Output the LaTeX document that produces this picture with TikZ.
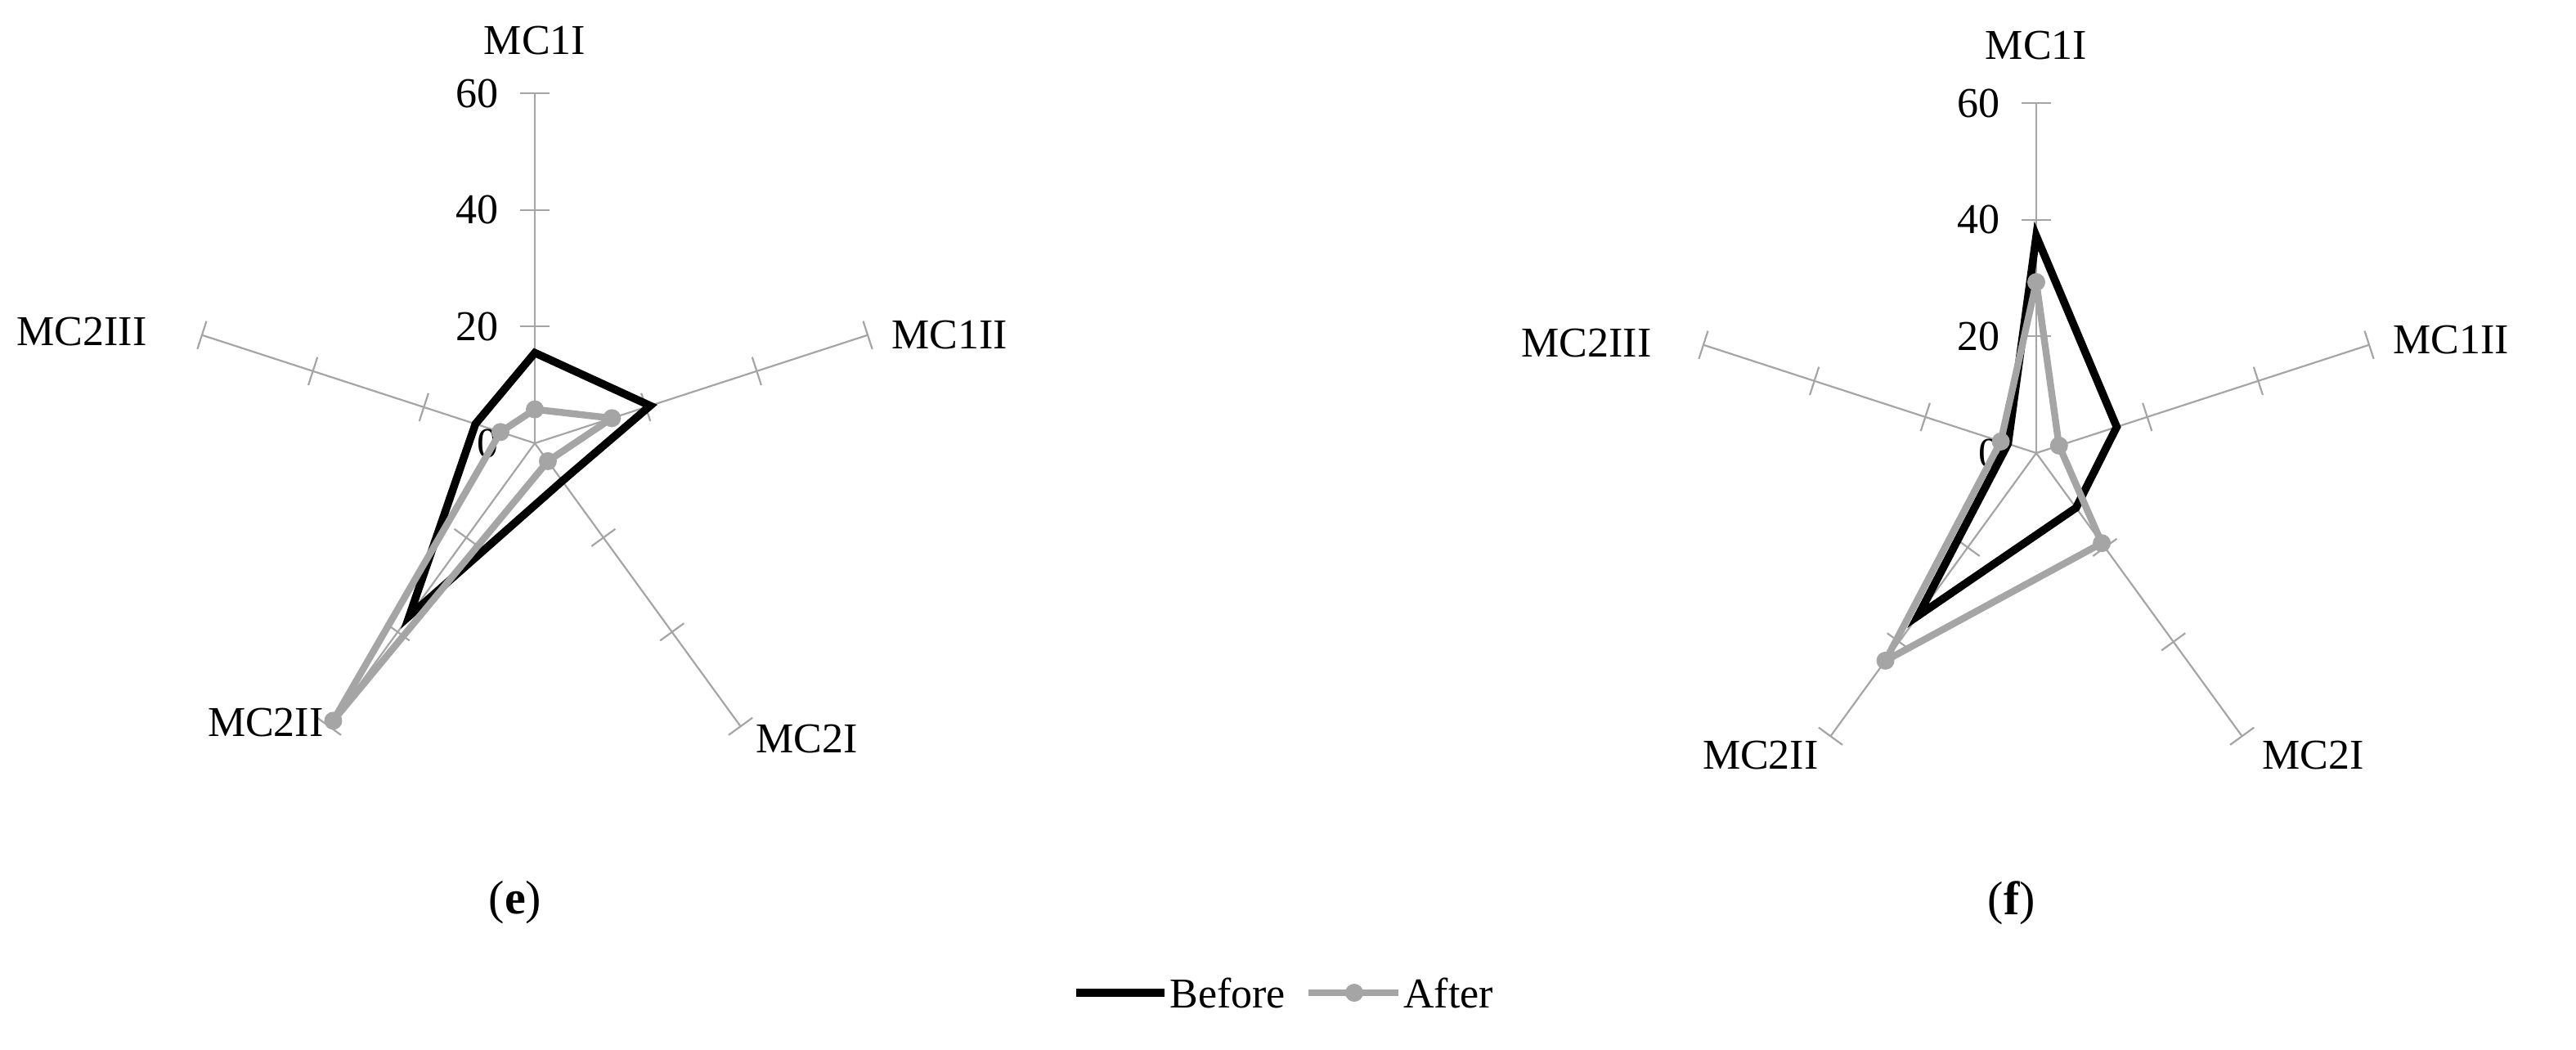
\documentclass[tikz,border=0pt]{standalone}
\usepackage{fontspec}
\setmainfont{Liberation Serif}
\usetikzlibrary{calc}
\begin{document}
\begin{tikzpicture}[x=1pt,y=1pt,
  axisline/.style={draw={rgb,255:red,165;green,165;blue,165},line width=1.1pt},
  before/.style={draw=black,line width=4.8pt,line join=miter},
  after/.style={draw={rgb,255:red,165;green,165;blue,165},line width=4.2pt,line join=round},
  dot/.style={circle,fill={rgb,255:red,165;green,165;blue,165},inner sep=0pt,minimum size=11pt},
  lab/.style={font=\fontsize{26}{29}\selectfont,inner sep=0pt},
  captxt/.style={font=\fontsize{29}{33}\selectfont,inner sep=0pt}]
\useasboundingbox (0,0) rectangle (1575,-642);
\def\R{214}
\newcommand{\radaraxes}[1]{%
  \foreach \a in {90,18,-54,-126,162}{
    \draw[axisline] (#1) -- ($(#1)+(\a:\R)$);
    \foreach \k in {1,2,3}{
      \draw[axisline] ($(#1)+(\a:\k*\R/3)+(\a+90:9)$) -- ($(#1)+(\a:\k*\R/3)+(\a-90:9)$);
    }
  }
  \foreach \n/\t in {0/0,1/20,2/40,3/60}{
    \node[lab,anchor=east] at ($(#1)+(-22,\n*\R/3)$) {\t};
  }
}
\newcommand{\radarpoly}[7]{%
  \draw[#2] ($(#1)+(90:#3*\R/60)$) -- ($(#1)+(18:#4*\R/60)$) -- ($(#1)+(-54:#5*\R/60)$)
     -- ($(#1)+(-126:#6*\R/60)$) -- ($(#1)+(162:#7*\R/60)$) -- cycle;
}
\newcommand{\radardots}[6]{%
  \node[dot] at ($(#1)+(90:#2*\R/60)$) {};
  \node[dot] at ($(#1)+(18:#3*\R/60)$) {};
  \node[dot] at ($(#1)+(-54:#4*\R/60)$) {};
  \node[dot] at ($(#1)+(-126:#5*\R/60)$) {};
  \node[dot] at ($(#1)+(162:#6*\R/60)$) {};
}
\coordinate (ce) at (327,-271);
\coordinate (cf) at (1245,-277);
\radaraxes{ce}
\radarpoly{ce}{before}{15.5}{20.8}{8}{36.6}{10.7}
\radarpoly{ce}{after}{5.8}{13.9}{3.8}{58.8}{6.2}
\radardots{ce}{5.8}{13.9}{3.8}{58.8}{6.2}
\radaraxes{cf}
\radarpoly{cf}{before}{37.2}{14.5}{11.6}{34.5}{5.1}
\radarpoly{cf}{after}{29.3}{4.1}{19.1}{44}{6.4}
\radardots{cf}{29.3}{4.1}{19.1}{44}{6.4}
% axis labels e
\node[lab] (e1) at (327,-25) {MC1I};
\node[lab,anchor=west] (e2) at (545,-205) {MC1II};
\node[lab,anchor=west] (e3) at (462,-452) {MC2I};
\node[lab,anchor=east] (e4) at (198,-442) {MC2II};
\node[lab,anchor=east] (e5) at (90,-203) {MC2III};
% axis labels f
\node[lab] (f1) at (1245,-28) {MC1I};
\node[lab,anchor=west] (f2) at (1463,-208) {MC1II};
\node[lab,anchor=west] (f3) at (1383,-462) {MC2I};
\node[lab,anchor=east] (f4) at (1112,-462) {MC2II};
\node[lab,anchor=east] (f5) at (1010,-210) {MC2III};
% captions
\node[captxt] (ecap) at (315,-552) {(\textbf{e})};
\node[captxt] (fcap) at (1230,-552) {(\textbf{f})};
% legend
\coordinate (l1a) at (658,-607); \coordinate (l1b) at (712,-607);
\draw[before] (l1a) -- (l1b);
\node[lab,anchor=west] (lb) at (715,-607) {Before};
\coordinate (l2a) at (800,-607); \coordinate (l2b) at (855,-607);
\draw[after] (l2a) -- (l2b);
\node[dot] (l2m) at (828,-607) {};
\node[lab,anchor=west] (la) at (858,-607) {After};
\end{tikzpicture}
\end{document}
